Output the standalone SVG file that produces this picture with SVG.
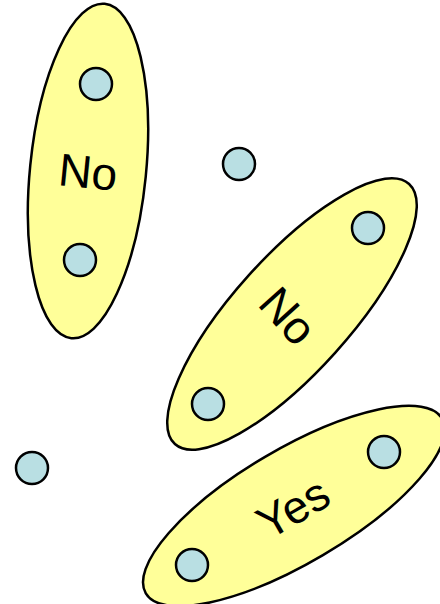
<svg xmlns="http://www.w3.org/2000/svg" width="440" height="604" viewBox="0 0 440 604">
<style>
.grp{fill:#FFFF99;stroke:#000;stroke-width:2.5}
.pt{fill:#B9DFE3;stroke:#000;stroke-width:2.5}
.lbl{font-family:"Liberation Sans",Arial,sans-serif;font-size:46px;fill:#000;text-anchor:middle}
</style>
<rect width="440" height="604" fill="#fff"/>
<g id="cluster1">
<ellipse class="grp" cx="0" cy="0" rx="58" ry="168" transform="translate(88,171) rotate(5.7)"/>
<text class="lbl" transform="translate(88,172) rotate(5.7)" dy="16">No</text>
</g>
<g id="cluster2">
<ellipse class="grp" cx="0" cy="0" rx="175" ry="58" transform="translate(292,314) rotate(-48)"/>
<text class="lbl" transform="translate(288,316) rotate(48)" dy="16">No</text>
</g>
<g id="cluster3">
<ellipse class="grp" cx="0" cy="0" rx="172" ry="57" transform="translate(294,506) rotate(-30.5)"/>
<text class="lbl" transform="translate(293,508) rotate(-30)" dy="16">Yes</text>
</g>
<g id="p1"><circle class="pt" cx="96" cy="84" r="16"/></g>
<g id="p2"><circle class="pt" cx="80" cy="260" r="16"/></g>
<g id="p3"><circle class="pt" cx="239" cy="164" r="16"/></g>
<g id="p4"><circle class="pt" cx="368" cy="228" r="16"/></g>
<g id="p5"><circle class="pt" cx="208" cy="404" r="16"/></g>
<g id="p6"><circle class="pt" cx="32" cy="468" r="16"/></g>
<g id="p7"><circle class="pt" cx="384" cy="452" r="16"/></g>
<g id="p8"><circle class="pt" cx="192" cy="565" r="16"/></g>
<g id="connectors"/>
</svg>
